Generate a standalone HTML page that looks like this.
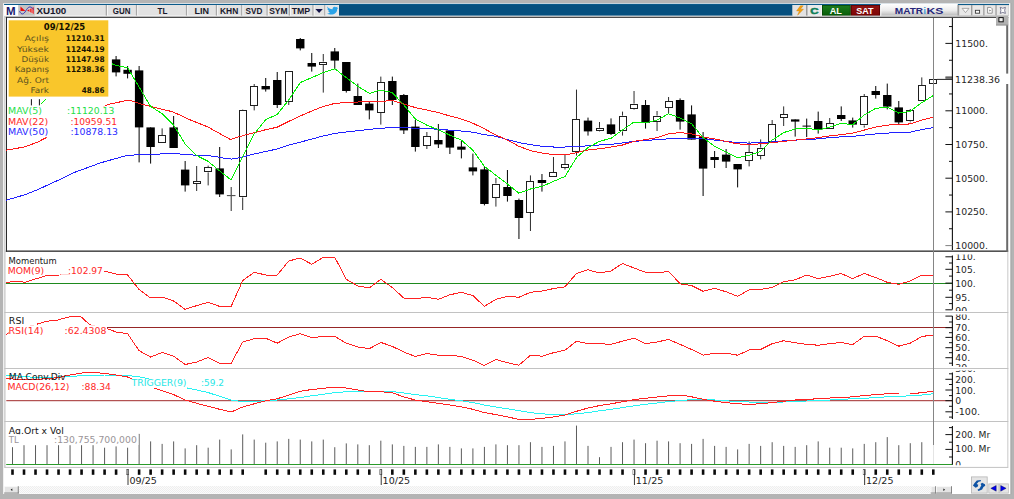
<!DOCTYPE html><html><head><meta charset="utf-8"><title>XU100</title><style>html,body{margin:0;padding:0;background:#b4b4b4;overflow:hidden}svg{display:block}</style></head><body>
<svg width="1014" height="499" viewBox="0 0 1014 499">
<defs>
<linearGradient id="gm" x1="0" y1="0" x2="0" y2="1"><stop offset="0" stop-color="#ffffff"/><stop offset="0.55" stop-color="#ececec"/><stop offset="1" stop-color="#bcbcbc"/></linearGradient>
<linearGradient id="gg" x1="0" y1="0" x2="0" y2="1"><stop offset="0" stop-color="#1c7a1c"/><stop offset="1" stop-color="#0a600a"/></linearGradient>
<linearGradient id="gr" x1="0" y1="0" x2="0" y2="1"><stop offset="0" stop-color="#8e1212"/><stop offset="1" stop-color="#800606"/></linearGradient>
<pattern id="dots" width="2" height="2" patternUnits="userSpaceOnUse"><rect width="2" height="2" fill="#fbfbfb"/><rect width="1" height="1" fill="#eeeeee"/><rect x="1" y="1" width="1" height="1" fill="#eeeeee"/></pattern>
<clipPath id="cmom"><rect x="0" y="254.5" width="1014" height="56.5"/></clipPath>
<clipPath id="crsi"><rect x="0" y="314.5" width="1014" height="52.5"/></clipPath>
<clipPath id="cmacd"><rect x="0" y="370.5" width="1014" height="49.5"/></clipPath>
<clipPath id="cvol"><rect x="0" y="424" width="1014" height="41.2"/></clipPath>
</defs>
<rect x="0.00" y="0.00" width="1014.00" height="499.00" fill="#b4b4b4" />
<rect x="1010.30" y="3.20" width="1.20" height="491.00" fill="#a6a6a6" />
<rect x="3.20" y="3.20" width="1007.10" height="490.80" fill="#ffffff" />
<rect x="4.10" y="3.90" width="1005.00" height="1.10" fill="#0a5a8a" />
<rect x="4.10" y="5.00" width="1005.00" height="10.60" fill="#e2e2e2" />
<rect x="339.00" y="5.00" width="453.70" height="10.60" fill="#06507f" />
<rect x="339.00" y="3.90" width="453.70" height="1.10" fill="#0a5a8a" />
<rect x="4.10" y="5.00" width="14.00" height="10.60" fill="#ffffff" />
<text x="6.1" y="15.0" font-family="'Liberation Sans','DejaVu Sans',sans-serif" font-size="11.20" fill="#1b1b70" font-weight="bold" text-anchor="start" textLength="9.6" lengthAdjust="spacingAndGlyphs" >M</text>
<rect x="18.30" y="5.00" width="16.40" height="10.60" fill="#c4c4c4" />
<path d="M20.5 6.5 L20.5 11 L25.5 11 Z" fill="#e81010"/>
<path d="M27 10.5 L33.8 7 L33.8 14 Z" fill="#e81010"/>
<path d="M29.6 8 L29.6 13 M31.2 7.4 L31.2 13.6 M32.8 7 L32.8 14" stroke="#f4dcdc" stroke-width="0.6" fill="none"/>
<path d="M19.6 11.2 C21.4 15.2 23.6 14.6 25.8 10.8 S30 5.2 33.8 9.4" fill="none" stroke="#2a2ab8" stroke-width="0.9"/>
<text x="36.4" y="13.9" font-family="'Liberation Sans','DejaVu Sans',sans-serif" font-size="9.20" fill="#18182c" font-weight="bold" text-anchor="start" textLength="29.9" lengthAdjust="spacingAndGlyphs" >XU100</text>
<rect x="105.70" y="5.00" width="1.30" height="10.60" fill="#a8a8a8" />
<rect x="107.00" y="5.00" width="1.00" height="10.60" fill="#f6f6f6" />
<rect x="135.90" y="5.00" width="1.30" height="10.60" fill="#a8a8a8" />
<rect x="137.20" y="5.00" width="1.00" height="10.60" fill="#f6f6f6" />
<rect x="185.90" y="5.00" width="1.30" height="10.60" fill="#a8a8a8" />
<rect x="187.20" y="5.00" width="1.00" height="10.60" fill="#f6f6f6" />
<rect x="215.80" y="5.00" width="1.30" height="10.60" fill="#a8a8a8" />
<rect x="217.10" y="5.00" width="1.00" height="10.60" fill="#f6f6f6" />
<rect x="241.10" y="5.00" width="1.30" height="10.60" fill="#a8a8a8" />
<rect x="242.40" y="5.00" width="1.00" height="10.60" fill="#f6f6f6" />
<rect x="266.50" y="5.00" width="1.30" height="10.60" fill="#a8a8a8" />
<rect x="267.80" y="5.00" width="1.00" height="10.60" fill="#f6f6f6" />
<rect x="288.70" y="5.00" width="1.30" height="10.60" fill="#a8a8a8" />
<rect x="290.00" y="5.00" width="1.00" height="10.60" fill="#f6f6f6" />
<rect x="312.40" y="5.00" width="1.30" height="10.60" fill="#a8a8a8" />
<rect x="313.70" y="5.00" width="1.00" height="10.60" fill="#f6f6f6" />
<rect x="324.20" y="5.00" width="1.30" height="10.60" fill="#a8a8a8" />
<rect x="325.50" y="5.00" width="1.00" height="10.60" fill="#f6f6f6" />
<text x="112.8" y="13.7" font-family="'Liberation Sans','DejaVu Sans',sans-serif" font-size="9.00" fill="#18182c" font-weight="bold" text-anchor="start" textLength="17.7" lengthAdjust="spacingAndGlyphs" >GUN</text>
<text x="157.6" y="13.7" font-family="'Liberation Sans','DejaVu Sans',sans-serif" font-size="9.00" fill="#18182c" font-weight="bold" text-anchor="start" textLength="9.9" lengthAdjust="spacingAndGlyphs" >TL</text>
<text x="194.4" y="13.7" font-family="'Liberation Sans','DejaVu Sans',sans-serif" font-size="9.00" fill="#18182c" font-weight="bold" text-anchor="start" textLength="14.5" lengthAdjust="spacingAndGlyphs" >LIN</text>
<text x="220.0" y="13.7" font-family="'Liberation Sans','DejaVu Sans',sans-serif" font-size="9.00" fill="#18182c" font-weight="bold" text-anchor="start" textLength="18.2" lengthAdjust="spacingAndGlyphs" >KHN</text>
<text x="245.6" y="13.7" font-family="'Liberation Sans','DejaVu Sans',sans-serif" font-size="9.00" fill="#18182c" font-weight="bold" text-anchor="start" textLength="16.8" lengthAdjust="spacingAndGlyphs" >SVD</text>
<text x="269.2" y="13.7" font-family="'Liberation Sans','DejaVu Sans',sans-serif" font-size="9.00" fill="#18182c" font-weight="bold" text-anchor="start" textLength="18.4" lengthAdjust="spacingAndGlyphs" >SYM</text>
<text x="291.7" y="13.7" font-family="'Liberation Sans','DejaVu Sans',sans-serif" font-size="9.00" fill="#18182c" font-weight="bold" text-anchor="start" textLength="18.5" lengthAdjust="spacingAndGlyphs" >TMP</text>
<path d="M315.4 8.9 L322.8 8.9 L319.1 13 Z" fill="#14144a"/>
<rect x="326.00" y="5.00" width="13.00" height="10.60" fill="#e8e8e8" />
<path d="M327.2 6.6 C328.6 8.4 330.6 9.3 332.6 9.2 C332.3 7.4 334.2 6 335.9 7.3 L337.9 6.7 L337 8 L338.3 7.9 L337.2 9 C337.4 12.3 334.3 14.9 330.4 14.6 C329.2 14.5 328 14.1 327 13.4 C328.2 13.5 329.3 13.2 330.2 12.5 C329.2 12.4 328.5 11.8 328.2 10.9 L329.2 10.9 C328.1 10.5 327.4 9.6 327.4 8.5 L328.3 8.8 C327.3 8 327 7.2 327.2 6.6 Z" fill="#2aa3e8"/>
<rect x="792.40" y="5.00" width="13.60" height="10.60" fill="#e2e2e2" />
<rect x="806.00" y="5.00" width="1.70" height="10.60" fill="#9a9a9a" />
<path d="M800.4 5.8 L796.6 10.9 L799.4 10.9 L797.6 15.2 L803.4 9.2 L800.4 9.2 L803.2 5.8 Z" fill="#f6a00c" stroke="#c87800" stroke-width="0.4"/>
<rect x="807.70" y="5.00" width="13.60" height="10.60" fill="#e9e9e9" />
<text x="810.2" y="13.8" font-family="'Liberation Sans','DejaVu Sans',sans-serif" font-size="9.40" fill="#0e7e58" font-weight="bold" text-anchor="start" textLength="8.4" lengthAdjust="spacingAndGlyphs" stroke="#0e7e58" stroke-width="0.5">C</text>
<rect x="821.20" y="5.00" width="0.90" height="10.60" fill="#f8f8f8" />
<rect x="822.00" y="5.00" width="28.80" height="10.60" fill="#064a06" />
<rect x="823.00" y="5.80" width="26.80" height="9.00" fill="url(#gg)" />
<text x="829.7" y="13.7" font-family="'Liberation Sans','DejaVu Sans',sans-serif" font-size="9.00" fill="#ffffff" font-weight="bold" text-anchor="start" textLength="12.2" lengthAdjust="spacingAndGlyphs" >AL</text>
<rect x="850.80" y="5.00" width="29.20" height="10.60" fill="#5e0202" />
<rect x="851.80" y="5.80" width="27.20" height="9.00" fill="url(#gr)" />
<text x="856.2" y="13.7" font-family="'Liberation Sans','DejaVu Sans',sans-serif" font-size="9.00" fill="#ffffff" font-weight="bold" text-anchor="start" textLength="17.3" lengthAdjust="spacingAndGlyphs" >SAT</text>
<rect x="880.50" y="3.90" width="77.30" height="11.70" fill="url(#gm)" />
<rect x="880.50" y="5.00" width="0.80" height="10.60" fill="#fafafa" />
<text x="894.8" y="13.9" font-family="'Liberation Sans','DejaVu Sans',sans-serif" font-size="9.40" fill="#26267a" font-weight="bold" text-anchor="start" textLength="28.3" lengthAdjust="spacingAndGlyphs" >MATR</text>
<text x="923.6" y="13.9" font-family="'Liberation Sans','DejaVu Sans',sans-serif" font-size="9.40" fill="#3a9ad8" font-weight="bold" text-anchor="start" textLength="2.4" lengthAdjust="spacingAndGlyphs" >i</text>
<text x="926.6" y="13.9" font-family="'Liberation Sans','DejaVu Sans',sans-serif" font-size="9.40" fill="#26267a" font-weight="bold" text-anchor="start" textLength="16.9" lengthAdjust="spacingAndGlyphs" >KS</text>
<rect x="957.50" y="5.00" width="1.00" height="10.60" fill="#a0a0a0" />
<rect x="957.80" y="5.00" width="51.00" height="10.60" fill="#9c9c9c" />
<rect x="959.20" y="5.20" width="11.80" height="10.20" fill="#e8e8e8" />
<rect x="972.40" y="5.20" width="10.80" height="10.20" fill="#e8e8e8" />
<rect x="984.50" y="5.20" width="10.90" height="10.20" fill="#e8e8e8" />
<rect x="996.70" y="5.20" width="12.00" height="10.20" fill="#e8e8e8" />
<path d="M962.1 8.4 L969 8.4 L965.5 12.6 Z" fill="#fafafa" stroke="#8c8c8c" stroke-width="0.7"/>
<rect x="975.4" y="10.3" width="4.2" height="2.9" fill="#fff" stroke="#3a3a3a" stroke-width="0.9"/>
<path d="M987.6 7.4 L990.8 7.4 L992.2 8.8 L992.2 13.2 L987.6 13.2 Z" fill="#fff" stroke="#6e6e6e" stroke-width="0.7"/><path d="M989.4 9.5 L991 10.5 L989.4 11.5 Z" fill="#666"/>
<path d="M1000.2 7.3 Q1002.8 9.3 1005.4 7.3 Q1003.9 10.3 1005.4 13.4 Q1002.8 11.4 1000.2 13.4 Q1001.7 10.3 1000.2 7.3 Z" fill="#fff" stroke="#5a5a78" stroke-width="0.75" stroke-linejoin="round"/>
<rect x="5.70" y="16.70" width="1002.50" height="1.10" fill="#1e1e1e" />
<rect x="6.00" y="17.00" width="1.00" height="234.60" fill="#2a2a2a" />
<rect x="5.70" y="250.50" width="1002.50" height="1.30" fill="#2a2a2a" />
<rect x="1006.20" y="17.00" width="2.00" height="234.80" fill="#6a6a6a" />
<rect x="996.00" y="15.80" width="12.20" height="9.40" fill="#b2b2b2" />
<rect x="996.00" y="24.60" width="12.20" height="0.90" fill="#8a8a8a" />
<rect x="998.9" y="17.6" width="4.3" height="4.2" fill="#f2f2f2" stroke="#111" stroke-width="1"/>
<rect x="4.40" y="16.00" width="1.00" height="451.40" fill="#b6b6b6" />
<rect x="1007.40" y="251.80" width="0.90" height="215.60" fill="#c2c2c2" />
<rect x="4.30" y="312.00" width="1004.00" height="1.00" fill="#c2c2c2" />
<rect x="4.30" y="368.00" width="1004.00" height="1.00" fill="#c2c2c2" />
<rect x="4.30" y="421.00" width="1004.00" height="1.00" fill="#c2c2c2" />
<rect x="4.30" y="466.90" width="1004.00" height="1.00" fill="#c2c2c2" />
<polyline points="6.3,200.2 25.0,194.7 37.6,189.7 50.0,184.0 62.6,178.2 75.0,172.2 87.7,167.6 100.0,163.0 112.7,159.4 125.3,155.9 137.8,154.6 150.3,154.4 162.8,153.9 175.4,153.6 187.9,154.6 200.4,155.6 213.0,156.1 225.5,158.4 231.7,159.1 240.5,157.6 254.2,154.0 265.7,151.5 277.2,149.0 288.7,145.2 300.2,142.2 311.8,139.0 323.3,136.0 334.8,133.4 346.3,132.0 357.8,130.7 369.3,129.4 380.8,128.2 392.3,127.7 403.8,127.7 415.3,128.2 426.9,128.7 438.4,129.2 449.9,130.2 461.4,131.0 472.9,132.2 484.4,134.7 495.9,136.3 507.4,139.6 518.9,142.6 530.5,144.6 542.0,146.3 553.5,147.0 565.0,147.0 576.5,146.6 588.0,145.8 599.5,145.0 611.0,144.3 622.5,143.0 634.0,141.3 645.5,140.6 657.1,139.6 668.6,138.8 680.1,138.3 691.6,138.3 703.1,138.8 714.6,140.1 726.1,141.4 737.6,142.6 749.1,143.1 760.6,142.6 772.2,141.9 783.7,140.9 795.2,140.1 806.7,139.4 818.2,138.9 829.7,137.6 841.2,136.9 852.7,136.4 864.2,135.1 875.8,133.9 887.3,133.1 898.8,132.6 910.3,132.1 921.8,129.6 933.3,127.6" fill="none" stroke="#2020ff" stroke-width="1" shape-rendering="crispEdges"/>
<polyline points="6.3,150.1 25.0,146.9 37.6,142.1 46.3,137.6 107.7,104.5 129.0,100.0 142.8,104.5 172.8,111.8 190.4,120.0 208.0,127.0 218.0,132.6 230.5,139.6 240.5,136.3 254.2,132.7 265.7,129.7 277.2,127.2 288.7,121.4 300.2,116.0 311.8,111.0 323.3,106.4 334.8,103.4 346.3,102.6 357.8,102.0 369.3,101.9 380.8,101.4 392.3,100.6 403.8,103.9 415.3,107.6 426.9,110.0 438.4,112.6 449.9,116.0 461.4,119.0 472.9,123.2 484.4,128.8 495.9,135.0 507.4,140.0 518.9,146.3 530.5,150.6 542.0,153.0 553.5,154.6 565.0,155.0 576.5,152.6 588.0,150.0 599.5,148.8 611.0,147.0 622.5,145.0 634.0,141.3 645.5,139.6 657.1,137.6 668.6,133.8 680.1,132.6 691.6,133.8 703.1,137.0 714.6,138.9 726.1,141.4 737.6,143.9 749.1,144.4 760.6,143.9 772.2,142.6 783.7,141.4 795.2,140.1 806.7,138.9 818.2,137.6 829.7,135.9 841.2,134.6 852.7,133.1 864.2,130.1 875.8,127.1 887.3,125.1 898.8,124.6 910.3,123.9 921.8,120.1 933.3,117.1" fill="none" stroke="#ff1818" stroke-width="1" shape-rendering="crispEdges"/>
<polyline points="111.5,63.6 116.1,65.5 127.6,67.6 139.1,87.0 150.6,106.5 162.1,113.5 173.6,125.0 185.2,144.0 196.7,155.5 208.2,161.4 219.7,171.0 231.2,180.0 242.7,156.5 254.2,134.0 265.7,119.7 277.2,114.4 288.7,100.0 300.2,82.6 311.8,77.6 323.3,72.6 334.8,68.8 346.3,77.6 357.8,86.3 369.3,93.4 380.8,90.0 392.3,92.6 403.8,105.0 415.3,119.0 426.9,125.2 438.4,129.7 449.9,135.2 461.4,140.2 472.9,150.2 484.4,166.4 495.9,175.2 507.4,184.0 518.9,193.2 530.5,189.0 542.0,186.4 553.5,181.4 565.0,176.4 576.5,157.6 588.0,147.6 599.5,141.3 611.0,138.3 622.5,130.0 634.0,122.0 645.5,123.0 657.1,120.0 668.6,113.8 680.1,118.0 691.6,123.8 703.1,137.6 714.6,146.4 726.1,152.2 737.6,157.7 749.1,155.2 760.6,151.4 772.2,140.1 783.7,132.6 795.2,128.9 806.7,128.1 818.2,130.1 829.7,127.1 841.2,123.4 852.7,124.6 864.2,115.1 875.8,108.3 887.3,107.1 898.8,113.1 910.3,111.3 921.8,102.6 933.3,95.6" fill="none" stroke="#00ee00" stroke-width="1" shape-rendering="crispEdges"/>
<polyline points="41.3,104.0 46.0,99.0" fill="none" stroke="#00ee00" stroke-width="1" shape-rendering="crispEdges"/>
<line x1="31.40" y1="99.20" x2="31.40" y2="105.40" stroke="#111" stroke-width="1.00" />
<line x1="39.40" y1="99.20" x2="39.40" y2="105.40" stroke="#111" stroke-width="1.00" />
<line x1="116.09" y1="56.00" x2="116.09" y2="76.40" stroke="#000" stroke-width="1.00" />
<rect x="111.89" y="59.40" width="8.40" height="13.00" fill="#000" />
<line x1="127.60" y1="66.00" x2="127.60" y2="78.40" stroke="#000" stroke-width="1.00" />
<rect x="123.40" y="69.80" width="8.40" height="4.00" fill="#000" />
<line x1="139.11" y1="66.00" x2="139.11" y2="162.40" stroke="#000" stroke-width="1.00" />
<rect x="134.91" y="70.40" width="8.40" height="57.00" fill="#000" />
<line x1="150.62" y1="127.40" x2="150.62" y2="163.60" stroke="#000" stroke-width="1.00" />
<rect x="146.42" y="127.40" width="8.40" height="19.60" fill="#000" />
<line x1="162.13" y1="128.40" x2="162.13" y2="135.00" stroke="#2c2c2c" stroke-width="1.00" />
<line x1="162.13" y1="143.40" x2="162.13" y2="143.40" stroke="#2c2c2c" stroke-width="1.00" />
<rect x="158.00" y="135.00" width="8.00" height="8.00" fill="#1e1e1e" />
<rect x="159.00" y="136.00" width="6.00" height="6.00" fill="#fff" />
<line x1="173.64" y1="116.00" x2="173.64" y2="148.00" stroke="#000" stroke-width="1.00" />
<rect x="169.44" y="127.40" width="8.40" height="20.60" fill="#000" />
<line x1="185.15" y1="161.00" x2="185.15" y2="191.60" stroke="#000" stroke-width="1.00" />
<rect x="180.95" y="169.60" width="8.40" height="15.80" fill="#000" />
<line x1="196.66" y1="166.00" x2="196.66" y2="181.00" stroke="#2c2c2c" stroke-width="1.00" />
<line x1="196.66" y1="183.60" x2="196.66" y2="191.00" stroke="#2c2c2c" stroke-width="1.00" />
<rect x="193.00" y="181.00" width="8.00" height="3.00" fill="#1e1e1e" />
<rect x="194.00" y="182.00" width="6.00" height="1.00" fill="#fff" />
<line x1="208.17" y1="165.60" x2="208.17" y2="167.00" stroke="#2c2c2c" stroke-width="1.00" />
<line x1="208.17" y1="172.40" x2="208.17" y2="185.40" stroke="#2c2c2c" stroke-width="1.00" />
<rect x="204.00" y="167.00" width="8.00" height="5.00" fill="#1e1e1e" />
<rect x="205.00" y="168.00" width="6.00" height="3.00" fill="#fff" />
<line x1="219.68" y1="147.00" x2="219.68" y2="197.00" stroke="#000" stroke-width="1.00" />
<rect x="215.48" y="168.40" width="8.40" height="26.00" fill="#000" />
<line x1="231.19" y1="187.00" x2="231.19" y2="195.20" stroke="#2c2c2c" stroke-width="1.00" />
<line x1="231.19" y1="196.00" x2="231.19" y2="211.00" stroke="#2c2c2c" stroke-width="1.00" />
<rect x="226.89" y="195.20" width="8.60" height="0.90" fill="#2c2c2c" />
<line x1="242.70" y1="109.60" x2="242.70" y2="110.40" stroke="#2c2c2c" stroke-width="1.00" />
<line x1="242.70" y1="197.40" x2="242.70" y2="210.00" stroke="#2c2c2c" stroke-width="1.00" />
<rect x="239.00" y="110.00" width="8.00" height="87.00" fill="#1e1e1e" />
<rect x="240.00" y="111.00" width="6.00" height="85.00" fill="#fff" />
<line x1="254.21" y1="84.00" x2="254.21" y2="86.00" stroke="#2c2c2c" stroke-width="1.00" />
<line x1="254.21" y1="106.00" x2="254.21" y2="110.40" stroke="#2c2c2c" stroke-width="1.00" />
<rect x="250.00" y="86.00" width="8.00" height="20.00" fill="#1e1e1e" />
<rect x="251.00" y="87.00" width="6.00" height="18.00" fill="#fff" />
<line x1="265.72" y1="78.00" x2="265.72" y2="91.60" stroke="#000" stroke-width="1.00" />
<rect x="261.52" y="86.00" width="8.40" height="3.40" fill="#000" />
<line x1="277.23" y1="72.00" x2="277.23" y2="108.00" stroke="#000" stroke-width="1.00" />
<rect x="273.03" y="80.00" width="8.40" height="25.00" fill="#000" />
<line x1="288.74" y1="71.20" x2="288.74" y2="71.20" stroke="#2c2c2c" stroke-width="1.00" />
<line x1="288.74" y1="101.60" x2="288.74" y2="105.00" stroke="#2c2c2c" stroke-width="1.00" />
<rect x="285.00" y="71.00" width="8.00" height="31.00" fill="#1e1e1e" />
<rect x="286.00" y="72.00" width="6.00" height="29.00" fill="#fff" />
<line x1="300.25" y1="38.00" x2="300.25" y2="50.40" stroke="#000" stroke-width="1.00" />
<rect x="296.05" y="39.00" width="8.40" height="9.40" fill="#000" />
<line x1="311.76" y1="53.00" x2="311.76" y2="71.60" stroke="#000" stroke-width="1.00" />
<rect x="307.56" y="63.00" width="8.40" height="3.60" fill="#000" />
<line x1="323.27" y1="54.00" x2="323.27" y2="61.60" stroke="#2c2c2c" stroke-width="1.00" />
<line x1="323.27" y1="64.40" x2="323.27" y2="92.60" stroke="#2c2c2c" stroke-width="1.00" />
<rect x="319.00" y="62.00" width="8.00" height="3.00" fill="#1e1e1e" />
<rect x="320.00" y="63.00" width="6.00" height="1.00" fill="#fff" />
<line x1="334.78" y1="48.00" x2="334.78" y2="69.40" stroke="#000" stroke-width="1.00" />
<rect x="330.58" y="51.40" width="8.40" height="9.20" fill="#000" />
<line x1="346.29" y1="62.00" x2="346.29" y2="92.60" stroke="#000" stroke-width="1.00" />
<rect x="342.09" y="62.00" width="8.40" height="29.00" fill="#000" />
<line x1="357.80" y1="83.60" x2="357.80" y2="105.00" stroke="#000" stroke-width="1.00" />
<rect x="353.60" y="96.00" width="8.40" height="9.00" fill="#000" />
<line x1="369.31" y1="102.00" x2="369.31" y2="119.40" stroke="#000" stroke-width="1.00" />
<rect x="365.11" y="103.60" width="8.40" height="6.80" fill="#000" />
<line x1="380.82" y1="76.60" x2="380.82" y2="82.00" stroke="#2c2c2c" stroke-width="1.00" />
<line x1="380.82" y1="113.00" x2="380.82" y2="124.60" stroke="#2c2c2c" stroke-width="1.00" />
<rect x="377.00" y="82.00" width="8.00" height="31.00" fill="#1e1e1e" />
<rect x="378.00" y="83.00" width="6.00" height="29.00" fill="#fff" />
<line x1="392.33" y1="76.60" x2="392.33" y2="105.00" stroke="#000" stroke-width="1.00" />
<rect x="388.13" y="81.00" width="8.40" height="19.00" fill="#000" />
<line x1="403.84" y1="94.00" x2="403.84" y2="134.00" stroke="#000" stroke-width="1.00" />
<rect x="399.64" y="95.00" width="8.40" height="35.40" fill="#000" />
<line x1="415.35" y1="120.00" x2="415.35" y2="151.60" stroke="#000" stroke-width="1.00" />
<rect x="411.15" y="126.60" width="8.40" height="20.40" fill="#000" />
<line x1="426.86" y1="132.00" x2="426.86" y2="136.40" stroke="#2c2c2c" stroke-width="1.00" />
<line x1="426.86" y1="146.00" x2="426.86" y2="149.00" stroke="#2c2c2c" stroke-width="1.00" />
<rect x="423.00" y="136.00" width="8.00" height="10.00" fill="#1e1e1e" />
<rect x="424.00" y="137.00" width="6.00" height="8.00" fill="#fff" />
<line x1="438.37" y1="124.00" x2="438.37" y2="148.00" stroke="#000" stroke-width="1.00" />
<rect x="434.17" y="140.00" width="8.40" height="4.40" fill="#000" />
<line x1="449.88" y1="130.40" x2="449.88" y2="154.00" stroke="#000" stroke-width="1.00" />
<rect x="445.68" y="130.40" width="8.40" height="17.20" fill="#000" />
<line x1="461.39" y1="141.00" x2="461.39" y2="158.40" stroke="#000" stroke-width="1.00" />
<rect x="457.19" y="146.60" width="8.40" height="3.10" fill="#000" />
<line x1="472.90" y1="153.60" x2="472.90" y2="175.40" stroke="#000" stroke-width="1.00" />
<rect x="468.70" y="167.40" width="8.40" height="4.00" fill="#000" />
<line x1="484.41" y1="166.00" x2="484.41" y2="205.40" stroke="#000" stroke-width="1.00" />
<rect x="480.21" y="169.40" width="8.40" height="34.60" fill="#000" />
<line x1="495.92" y1="178.00" x2="495.92" y2="183.60" stroke="#2c2c2c" stroke-width="1.00" />
<line x1="495.92" y1="197.60" x2="495.92" y2="206.60" stroke="#2c2c2c" stroke-width="1.00" />
<rect x="492.00" y="184.00" width="8.00" height="14.00" fill="#1e1e1e" />
<rect x="493.00" y="185.00" width="6.00" height="12.00" fill="#fff" />
<line x1="507.43" y1="170.00" x2="507.43" y2="201.60" stroke="#000" stroke-width="1.00" />
<rect x="503.23" y="187.00" width="8.40" height="9.00" fill="#000" />
<line x1="518.94" y1="198.60" x2="518.94" y2="239.00" stroke="#000" stroke-width="1.00" />
<rect x="514.74" y="200.00" width="8.40" height="18.00" fill="#000" />
<line x1="530.45" y1="175.40" x2="530.45" y2="181.00" stroke="#2c2c2c" stroke-width="1.00" />
<line x1="530.45" y1="212.60" x2="530.45" y2="231.00" stroke="#2c2c2c" stroke-width="1.00" />
<rect x="526.00" y="181.00" width="8.00" height="32.00" fill="#1e1e1e" />
<rect x="527.00" y="182.00" width="6.00" height="30.00" fill="#fff" />
<line x1="541.96" y1="174.00" x2="541.96" y2="191.60" stroke="#000" stroke-width="1.00" />
<rect x="537.76" y="180.00" width="8.40" height="3.00" fill="#000" />
<line x1="553.47" y1="157.00" x2="553.47" y2="172.40" stroke="#2c2c2c" stroke-width="1.00" />
<line x1="553.47" y1="177.40" x2="553.47" y2="177.40" stroke="#2c2c2c" stroke-width="1.00" />
<rect x="549.00" y="172.00" width="8.00" height="5.00" fill="#1e1e1e" />
<rect x="550.00" y="173.00" width="6.00" height="3.00" fill="#fff" />
<line x1="564.98" y1="155.00" x2="564.98" y2="164.40" stroke="#2c2c2c" stroke-width="1.00" />
<line x1="564.98" y1="167.60" x2="564.98" y2="169.60" stroke="#2c2c2c" stroke-width="1.00" />
<rect x="561.00" y="164.00" width="8.00" height="4.00" fill="#1e1e1e" />
<rect x="562.00" y="165.00" width="6.00" height="2.00" fill="#fff" />
<line x1="576.49" y1="89.60" x2="576.49" y2="119.00" stroke="#2c2c2c" stroke-width="1.00" />
<line x1="576.49" y1="152.00" x2="576.49" y2="155.60" stroke="#2c2c2c" stroke-width="1.00" />
<rect x="572.00" y="119.00" width="8.00" height="33.00" fill="#1e1e1e" />
<rect x="573.00" y="120.00" width="6.00" height="31.00" fill="#fff" />
<line x1="588.00" y1="117.60" x2="588.00" y2="135.60" stroke="#000" stroke-width="1.00" />
<rect x="583.80" y="120.60" width="8.40" height="10.80" fill="#000" />
<line x1="599.51" y1="122.00" x2="599.51" y2="127.80" stroke="#2c2c2c" stroke-width="1.00" />
<line x1="599.51" y1="130.80" x2="599.51" y2="131.40" stroke="#2c2c2c" stroke-width="1.00" />
<rect x="596.00" y="128.00" width="8.00" height="3.00" fill="#1e1e1e" />
<rect x="597.00" y="129.00" width="6.00" height="1.00" fill="#fff" />
<line x1="611.02" y1="118.40" x2="611.02" y2="135.00" stroke="#000" stroke-width="1.00" />
<rect x="606.82" y="124.40" width="8.40" height="9.60" fill="#000" />
<line x1="622.53" y1="111.60" x2="622.53" y2="115.60" stroke="#2c2c2c" stroke-width="1.00" />
<line x1="622.53" y1="131.40" x2="622.53" y2="135.60" stroke="#2c2c2c" stroke-width="1.00" />
<rect x="619.00" y="116.00" width="8.00" height="15.00" fill="#1e1e1e" />
<rect x="620.00" y="117.00" width="6.00" height="13.00" fill="#fff" />
<line x1="634.04" y1="91.00" x2="634.04" y2="103.60" stroke="#2c2c2c" stroke-width="1.00" />
<line x1="634.04" y1="108.60" x2="634.04" y2="109.60" stroke="#2c2c2c" stroke-width="1.00" />
<rect x="630.00" y="104.00" width="8.00" height="5.00" fill="#1e1e1e" />
<rect x="631.00" y="105.00" width="6.00" height="3.00" fill="#fff" />
<line x1="645.55" y1="100.00" x2="645.55" y2="128.60" stroke="#000" stroke-width="1.00" />
<rect x="641.35" y="105.00" width="8.40" height="18.00" fill="#000" />
<line x1="657.06" y1="111.00" x2="657.06" y2="115.60" stroke="#2c2c2c" stroke-width="1.00" />
<line x1="657.06" y1="121.60" x2="657.06" y2="131.00" stroke="#2c2c2c" stroke-width="1.00" />
<rect x="653.00" y="116.00" width="8.00" height="6.00" fill="#1e1e1e" />
<rect x="654.00" y="117.00" width="6.00" height="4.00" fill="#fff" />
<line x1="668.57" y1="97.00" x2="668.57" y2="101.40" stroke="#2c2c2c" stroke-width="1.00" />
<line x1="668.57" y1="107.60" x2="668.57" y2="113.00" stroke="#2c2c2c" stroke-width="1.00" />
<rect x="665.00" y="101.00" width="8.00" height="7.00" fill="#1e1e1e" />
<rect x="666.00" y="102.00" width="6.00" height="5.00" fill="#fff" />
<line x1="680.08" y1="98.40" x2="680.08" y2="129.60" stroke="#000" stroke-width="1.00" />
<rect x="675.88" y="100.00" width="8.40" height="21.60" fill="#000" />
<line x1="691.59" y1="105.40" x2="691.59" y2="139.60" stroke="#000" stroke-width="1.00" />
<rect x="687.39" y="114.40" width="8.40" height="25.20" fill="#000" />
<line x1="703.10" y1="132.00" x2="703.10" y2="196.00" stroke="#000" stroke-width="1.00" />
<rect x="698.90" y="137.00" width="8.40" height="31.60" fill="#000" />
<line x1="714.61" y1="151.00" x2="714.61" y2="168.00" stroke="#000" stroke-width="1.00" />
<rect x="710.41" y="157.00" width="8.40" height="3.00" fill="#000" />
<line x1="726.12" y1="149.00" x2="726.12" y2="168.00" stroke="#000" stroke-width="1.00" />
<rect x="721.92" y="154.60" width="8.40" height="7.00" fill="#000" />
<line x1="737.63" y1="164.00" x2="737.63" y2="187.40" stroke="#000" stroke-width="1.00" />
<rect x="733.43" y="164.00" width="8.40" height="5.40" fill="#000" />
<line x1="749.14" y1="141.40" x2="749.14" y2="152.40" stroke="#2c2c2c" stroke-width="1.00" />
<line x1="749.14" y1="161.00" x2="749.14" y2="166.40" stroke="#2c2c2c" stroke-width="1.00" />
<rect x="745.00" y="152.00" width="8.00" height="9.00" fill="#1e1e1e" />
<rect x="746.00" y="153.00" width="6.00" height="7.00" fill="#fff" />
<line x1="760.65" y1="139.40" x2="760.65" y2="147.60" stroke="#2c2c2c" stroke-width="1.00" />
<line x1="760.65" y1="155.60" x2="760.65" y2="159.40" stroke="#2c2c2c" stroke-width="1.00" />
<rect x="757.00" y="148.00" width="8.00" height="8.00" fill="#1e1e1e" />
<rect x="758.00" y="149.00" width="6.00" height="6.00" fill="#fff" />
<line x1="772.16" y1="120.00" x2="772.16" y2="124.00" stroke="#2c2c2c" stroke-width="1.00" />
<line x1="772.16" y1="142.00" x2="772.16" y2="142.00" stroke="#2c2c2c" stroke-width="1.00" />
<rect x="768.00" y="124.00" width="8.00" height="18.00" fill="#1e1e1e" />
<rect x="769.00" y="125.00" width="6.00" height="16.00" fill="#fff" />
<line x1="783.67" y1="106.40" x2="783.67" y2="114.00" stroke="#2c2c2c" stroke-width="1.00" />
<line x1="783.67" y1="117.80" x2="783.67" y2="126.00" stroke="#2c2c2c" stroke-width="1.00" />
<rect x="780.00" y="114.00" width="8.00" height="4.00" fill="#1e1e1e" />
<rect x="781.00" y="115.00" width="6.00" height="2.00" fill="#fff" />
<line x1="795.18" y1="119.40" x2="795.18" y2="136.60" stroke="#000" stroke-width="1.00" />
<rect x="790.98" y="119.40" width="8.40" height="2.20" fill="#000" />
<line x1="806.69" y1="118.60" x2="806.69" y2="137.00" stroke="#000" stroke-width="1.00" />
<rect x="802.49" y="125.60" width="8.40" height="1.00" fill="#000" />
<line x1="818.20" y1="111.60" x2="818.20" y2="133.60" stroke="#000" stroke-width="1.00" />
<rect x="814.00" y="121.00" width="8.40" height="9.00" fill="#000" />
<line x1="829.71" y1="118.00" x2="829.71" y2="123.30" stroke="#2c2c2c" stroke-width="1.00" />
<line x1="829.71" y1="128.80" x2="829.71" y2="128.80" stroke="#2c2c2c" stroke-width="1.00" />
<rect x="826.00" y="123.00" width="8.00" height="6.00" fill="#1e1e1e" />
<rect x="827.00" y="124.00" width="6.00" height="4.00" fill="#fff" />
<line x1="841.22" y1="106.40" x2="841.22" y2="121.00" stroke="#000" stroke-width="1.00" />
<rect x="837.02" y="115.00" width="8.40" height="4.00" fill="#000" />
<line x1="852.73" y1="117.60" x2="852.73" y2="127.60" stroke="#000" stroke-width="1.00" />
<rect x="848.53" y="120.40" width="8.40" height="4.20" fill="#000" />
<line x1="864.24" y1="94.00" x2="864.24" y2="96.40" stroke="#2c2c2c" stroke-width="1.00" />
<line x1="864.24" y1="125.40" x2="864.24" y2="127.60" stroke="#2c2c2c" stroke-width="1.00" />
<rect x="860.00" y="96.00" width="8.00" height="29.00" fill="#1e1e1e" />
<rect x="861.00" y="97.00" width="6.00" height="27.00" fill="#fff" />
<line x1="875.75" y1="86.00" x2="875.75" y2="98.60" stroke="#000" stroke-width="1.00" />
<rect x="871.55" y="91.00" width="8.40" height="4.00" fill="#000" />
<line x1="887.26" y1="83.60" x2="887.26" y2="109.40" stroke="#000" stroke-width="1.00" />
<rect x="883.06" y="95.00" width="8.40" height="11.60" fill="#000" />
<line x1="898.77" y1="101.00" x2="898.77" y2="124.60" stroke="#000" stroke-width="1.00" />
<rect x="894.57" y="107.40" width="8.40" height="15.00" fill="#000" />
<line x1="910.28" y1="109.00" x2="910.28" y2="110.00" stroke="#2c2c2c" stroke-width="1.00" />
<line x1="910.28" y1="121.40" x2="910.28" y2="122.40" stroke="#2c2c2c" stroke-width="1.00" />
<rect x="906.00" y="110.00" width="8.00" height="11.00" fill="#1e1e1e" />
<rect x="907.00" y="111.00" width="6.00" height="9.00" fill="#fff" />
<line x1="921.79" y1="77.40" x2="921.79" y2="85.40" stroke="#2c2c2c" stroke-width="1.00" />
<line x1="921.79" y1="100.80" x2="921.79" y2="100.80" stroke="#2c2c2c" stroke-width="1.00" />
<rect x="918.00" y="85.00" width="8.00" height="16.00" fill="#1e1e1e" />
<rect x="919.00" y="86.00" width="6.00" height="14.00" fill="#fff" />
<line x1="933.30" y1="79.20" x2="933.30" y2="79.20" stroke="#2c2c2c" stroke-width="1.00" />
<line x1="933.30" y1="83.60" x2="933.30" y2="83.60" stroke="#2c2c2c" stroke-width="1.00" />
<rect x="929.00" y="79.00" width="8.00" height="5.00" fill="#1e1e1e" />
<rect x="930.00" y="80.00" width="6.00" height="3.00" fill="#fff" />
<polyline points="6.3,200.2 25.0,194.7 37.6,189.7 50.0,184.0 62.6,178.2 75.0,172.2 87.7,167.6 100.0,163.0 112.7,159.4 125.3,155.9 137.8,154.6 150.3,154.4 162.8,153.9 175.4,153.6 187.9,154.6 200.4,155.6 213.0,156.1 225.5,158.4 231.7,159.1 240.5,157.6 254.2,154.0 265.7,151.5 277.2,149.0 288.7,145.2 300.2,142.2 311.8,139.0 323.3,136.0 334.8,133.4 346.3,132.0 357.8,130.7 369.3,129.4 380.8,128.2 392.3,127.7 403.8,127.7 415.3,128.2 426.9,128.7 438.4,129.2 449.9,130.2 461.4,131.0 472.9,132.2 484.4,134.7 495.9,136.3 507.4,139.6 518.9,142.6 530.5,144.6 542.0,146.3 553.5,147.0 565.0,147.0 576.5,146.6 588.0,145.8 599.5,145.0 611.0,144.3 622.5,143.0 634.0,141.3 645.5,140.6 657.1,139.6 668.6,138.8 680.1,138.3 691.6,138.3 703.1,138.8 714.6,140.1 726.1,141.4 737.6,142.6 749.1,143.1 760.6,142.6 772.2,141.9 783.7,140.9 795.2,140.1 806.7,139.4 818.2,138.9 829.7,137.6 841.2,136.9 852.7,136.4 864.2,135.1 875.8,133.9 887.3,133.1 898.8,132.6 910.3,132.1 921.8,129.6 933.3,127.6" fill="none" stroke="#2020ff" stroke-width="1" shape-rendering="crispEdges" opacity="0.9"/>
<polyline points="6.3,150.1 25.0,146.9 37.6,142.1 46.3,137.6 107.7,104.5 129.0,100.0 142.8,104.5 172.8,111.8 190.4,120.0 208.0,127.0 218.0,132.6 230.5,139.6 240.5,136.3 254.2,132.7 265.7,129.7 277.2,127.2 288.7,121.4 300.2,116.0 311.8,111.0 323.3,106.4 334.8,103.4 346.3,102.6 357.8,102.0 369.3,101.9 380.8,101.4 392.3,100.6 403.8,103.9 415.3,107.6 426.9,110.0 438.4,112.6 449.9,116.0 461.4,119.0 472.9,123.2 484.4,128.8 495.9,135.0 507.4,140.0 518.9,146.3 530.5,150.6 542.0,153.0 553.5,154.6 565.0,155.0 576.5,152.6 588.0,150.0 599.5,148.8 611.0,147.0 622.5,145.0 634.0,141.3 645.5,139.6 657.1,137.6 668.6,133.8 680.1,132.6 691.6,133.8 703.1,137.0 714.6,138.9 726.1,141.4 737.6,143.9 749.1,144.4 760.6,143.9 772.2,142.6 783.7,141.4 795.2,140.1 806.7,138.9 818.2,137.6 829.7,135.9 841.2,134.6 852.7,133.1 864.2,130.1 875.8,127.1 887.3,125.1 898.8,124.6 910.3,123.9 921.8,120.1 933.3,117.1" fill="none" stroke="#ff1818" stroke-width="1" shape-rendering="crispEdges" opacity="0.9"/>
<polyline points="111.5,63.6 116.1,65.5 127.6,67.6 139.1,87.0 150.6,106.5 162.1,113.5 173.6,125.0 185.2,144.0 196.7,155.5 208.2,161.4 219.7,171.0 231.2,180.0 242.7,156.5 254.2,134.0 265.7,119.7 277.2,114.4 288.7,100.0 300.2,82.6 311.8,77.6 323.3,72.6 334.8,68.8 346.3,77.6 357.8,86.3 369.3,93.4 380.8,90.0 392.3,92.6 403.8,105.0 415.3,119.0 426.9,125.2 438.4,129.7 449.9,135.2 461.4,140.2 472.9,150.2 484.4,166.4 495.9,175.2 507.4,184.0 518.9,193.2 530.5,189.0 542.0,186.4 553.5,181.4 565.0,176.4 576.5,157.6 588.0,147.6 599.5,141.3 611.0,138.3 622.5,130.0 634.0,122.0 645.5,123.0 657.1,120.0 668.6,113.8 680.1,118.0 691.6,123.8 703.1,137.6 714.6,146.4 726.1,152.2 737.6,157.7 749.1,155.2 760.6,151.4 772.2,140.1 783.7,132.6 795.2,128.9 806.7,128.1 818.2,130.1 829.7,127.1 841.2,123.4 852.7,124.6 864.2,115.1 875.8,108.3 887.3,107.1 898.8,113.1 910.3,111.3 921.8,102.6 933.3,95.6" fill="none" stroke="#00ee00" stroke-width="1" shape-rendering="crispEdges" opacity="0.9"/>
<rect x="7.00" y="106.20" width="112.00" height="31.00" fill="#ffffff" />
<text x="8.0" y="114.3" font-family="'DejaVu Sans','Liberation Sans',sans-serif" font-size="8.20" fill="#1fe04a" font-weight="normal" text-anchor="start" textLength="34.0" lengthAdjust="spacingAndGlyphs" >MAV(5)</text>
<text x="67.0" y="114.3" font-family="'DejaVu Sans','Liberation Sans',sans-serif" font-size="8.20" fill="#1fe04a" font-weight="normal" text-anchor="start" textLength="47.4" lengthAdjust="spacingAndGlyphs" >:11120.13</text>
<text x="8.0" y="124.8" font-family="'DejaVu Sans','Liberation Sans',sans-serif" font-size="8.20" fill="#ff2828" font-weight="normal" text-anchor="start" textLength="40.2" lengthAdjust="spacingAndGlyphs" >MAV(22)</text>
<text x="70.4" y="124.8" font-family="'DejaVu Sans','Liberation Sans',sans-serif" font-size="8.20" fill="#ff2828" font-weight="normal" text-anchor="start" textLength="46.6" lengthAdjust="spacingAndGlyphs" >:10959.51</text>
<text x="8.0" y="135.2" font-family="'DejaVu Sans','Liberation Sans',sans-serif" font-size="8.20" fill="#2a2aff" font-weight="normal" text-anchor="start" textLength="40.2" lengthAdjust="spacingAndGlyphs" >MAV(50)</text>
<text x="70.4" y="135.2" font-family="'DejaVu Sans','Liberation Sans',sans-serif" font-size="8.20" fill="#2a2aff" font-weight="normal" text-anchor="start" textLength="47.6" lengthAdjust="spacingAndGlyphs" >:10878.13</text>
<rect x="8.70" y="20.30" width="99.60" height="76.30" fill="#f9c62b" />
<text x="64.5" y="30.4" font-family="'DejaVu Sans','Liberation Sans',sans-serif" font-size="8.00" fill="#141000" font-weight="bold" text-anchor="middle" textLength="41.5" lengthAdjust="spacingAndGlyphs" >09/12/25</text>
<text x="49.0" y="41.1" font-family="'DejaVu Sans','Liberation Sans',sans-serif" font-size="7.90" fill="#5c5220" font-weight="normal" text-anchor="end" textLength="24.5" lengthAdjust="spacingAndGlyphs" >Açılış</text>
<text x="104.6" y="41.1" font-family="'DejaVu Sans','Liberation Sans',sans-serif" font-size="7.90" fill="#141000" font-weight="bold" text-anchor="end" textLength="38.8" lengthAdjust="spacingAndGlyphs" >11210.31</text>
<text x="49.0" y="51.6" font-family="'DejaVu Sans','Liberation Sans',sans-serif" font-size="7.90" fill="#5c5220" font-weight="normal" text-anchor="end" textLength="32.0" lengthAdjust="spacingAndGlyphs" >Yüksek</text>
<text x="104.6" y="51.6" font-family="'DejaVu Sans','Liberation Sans',sans-serif" font-size="7.90" fill="#141000" font-weight="bold" text-anchor="end" textLength="38.8" lengthAdjust="spacingAndGlyphs" >11244.19</text>
<text x="49.0" y="62.0" font-family="'DejaVu Sans','Liberation Sans',sans-serif" font-size="7.90" fill="#5c5220" font-weight="normal" text-anchor="end" textLength="27.5" lengthAdjust="spacingAndGlyphs" >Düşük</text>
<text x="104.6" y="62.0" font-family="'DejaVu Sans','Liberation Sans',sans-serif" font-size="7.90" fill="#141000" font-weight="bold" text-anchor="end" textLength="38.8" lengthAdjust="spacingAndGlyphs" >11147.98</text>
<text x="49.0" y="72.3" font-family="'DejaVu Sans','Liberation Sans',sans-serif" font-size="7.90" fill="#5c5220" font-weight="normal" text-anchor="end" textLength="34.3" lengthAdjust="spacingAndGlyphs" >Kapanış</text>
<text x="104.6" y="72.3" font-family="'DejaVu Sans','Liberation Sans',sans-serif" font-size="7.90" fill="#141000" font-weight="bold" text-anchor="end" textLength="38.8" lengthAdjust="spacingAndGlyphs" >11238.36</text>
<text x="49.0" y="83.1" font-family="'DejaVu Sans','Liberation Sans',sans-serif" font-size="7.90" fill="#5c5220" font-weight="normal" text-anchor="end" textLength="32.0" lengthAdjust="spacingAndGlyphs" >Ağ. Ort</text>
<text x="49.0" y="93.3" font-family="'DejaVu Sans','Liberation Sans',sans-serif" font-size="7.90" fill="#5c5220" font-weight="normal" text-anchor="end" textLength="18.6" lengthAdjust="spacingAndGlyphs" >Fark</text>
<text x="104.6" y="93.3" font-family="'DejaVu Sans','Liberation Sans',sans-serif" font-size="7.90" fill="#141000" font-weight="bold" text-anchor="end" textLength="22.8" lengthAdjust="spacingAndGlyphs" >48.86</text>
<line x1="952.40" y1="18.00" x2="952.40" y2="250.00" stroke="#111" stroke-width="1.10" />
<line x1="949.00" y1="26.55" x2="952.40" y2="26.55" stroke="#111" stroke-width="1.00" />
<line x1="945.40" y1="43.40" x2="952.40" y2="43.40" stroke="#111" stroke-width="1.00" />
<line x1="949.00" y1="60.25" x2="952.40" y2="60.25" stroke="#111" stroke-width="1.00" />
<line x1="945.40" y1="77.10" x2="952.40" y2="77.10" stroke="#111" stroke-width="1.00" />
<line x1="949.00" y1="93.95" x2="952.40" y2="93.95" stroke="#111" stroke-width="1.00" />
<line x1="945.40" y1="110.80" x2="952.40" y2="110.80" stroke="#111" stroke-width="1.00" />
<line x1="949.00" y1="127.65" x2="952.40" y2="127.65" stroke="#111" stroke-width="1.00" />
<line x1="945.40" y1="144.50" x2="952.40" y2="144.50" stroke="#111" stroke-width="1.00" />
<line x1="949.00" y1="161.35" x2="952.40" y2="161.35" stroke="#111" stroke-width="1.00" />
<line x1="945.40" y1="178.20" x2="952.40" y2="178.20" stroke="#111" stroke-width="1.00" />
<line x1="949.00" y1="195.05" x2="952.40" y2="195.05" stroke="#111" stroke-width="1.00" />
<line x1="945.40" y1="211.90" x2="952.40" y2="211.90" stroke="#111" stroke-width="1.00" />
<line x1="949.00" y1="228.75" x2="952.40" y2="228.75" stroke="#111" stroke-width="1.00" />
<line x1="945.40" y1="245.60" x2="952.40" y2="245.60" stroke="#808080" stroke-width="1.00" />
<text x="955.3" y="46.7" font-family="'DejaVu Sans','Liberation Sans',sans-serif" font-size="8.00" fill="#262626" font-weight="normal" text-anchor="start" textLength="32.6" lengthAdjust="spacingAndGlyphs" >11500.</text>
<text x="955.3" y="114.2" font-family="'DejaVu Sans','Liberation Sans',sans-serif" font-size="8.00" fill="#262626" font-weight="normal" text-anchor="start" textLength="32.6" lengthAdjust="spacingAndGlyphs" >11000.</text>
<text x="955.3" y="147.8" font-family="'DejaVu Sans','Liberation Sans',sans-serif" font-size="8.00" fill="#262626" font-weight="normal" text-anchor="start" textLength="32.6" lengthAdjust="spacingAndGlyphs" >10750.</text>
<text x="955.3" y="181.5" font-family="'DejaVu Sans','Liberation Sans',sans-serif" font-size="8.00" fill="#262626" font-weight="normal" text-anchor="start" textLength="32.6" lengthAdjust="spacingAndGlyphs" >10500.</text>
<text x="955.3" y="215.2" font-family="'DejaVu Sans','Liberation Sans',sans-serif" font-size="8.00" fill="#262626" font-weight="normal" text-anchor="start" textLength="32.6" lengthAdjust="spacingAndGlyphs" >10250.</text>
<text x="955.3" y="249.0" font-family="'DejaVu Sans','Liberation Sans',sans-serif" font-size="8.00" fill="#262626" font-weight="normal" text-anchor="start" textLength="32.6" lengthAdjust="spacingAndGlyphs" >10000.</text>
<rect x="954.00" y="73.60" width="56.00" height="10.40" fill="#ffffff" />
<text x="955.1" y="83.0" font-family="'DejaVu Sans','Liberation Sans',sans-serif" font-size="8.00" fill="#262626" font-weight="normal" text-anchor="start" textLength="45.0" lengthAdjust="spacingAndGlyphs" >11238.36</text>
<line x1="937.00" y1="79.40" x2="952.00" y2="79.40" stroke="#222" stroke-width="1.00" />
<line x1="945.40" y1="78.20" x2="952.00" y2="78.20" stroke="#444" stroke-width="1.00" />
<line x1="933.50" y1="18.00" x2="933.50" y2="445.00" stroke="#858585" stroke-width="1.00" />
<g clip-path="url(#cmom)">
<line x1="5.90" y1="283.50" x2="952.40" y2="283.50" stroke="#1e8a1e" stroke-width="1.00" />
<polyline points="6.3,282.3 17.5,281.3 25.0,282.3 46.3,275.6 59.6,275.0 81.0,273.0 104.7,271.3 116.1,274.0 127.6,275.0 139.1,289.5 150.6,298.0 162.1,297.0 173.6,301.0 185.2,309.4 196.7,305.6 208.2,302.4 219.7,306.4 231.2,306.4 242.7,280.6 254.2,272.3 265.7,275.0 277.2,275.0 288.7,261.0 300.2,258.0 311.8,264.3 323.3,257.3 334.8,257.3 346.3,279.3 357.8,286.0 369.3,288.0 380.8,279.3 392.3,287.6 403.8,298.0 415.3,298.6 426.9,297.3 438.4,299.3 449.9,294.8 461.4,292.3 472.9,295.6 484.4,306.4 495.9,299.3 507.4,296.3 518.9,297.3 530.5,292.3 542.0,291.0 553.5,288.6 565.0,286.8 576.5,273.5 588.0,269.8 599.5,273.0 611.0,271.0 622.5,263.5 634.0,268.0 645.5,272.3 657.1,273.0 668.6,271.3 680.1,283.8 691.6,285.6 703.1,291.3 714.6,288.3 726.1,291.8 737.6,296.3 749.1,289.8 760.6,289.3 772.2,287.6 783.7,281.8 795.2,279.8 806.7,275.0 818.2,278.6 829.7,276.3 841.2,273.5 852.7,278.6 864.2,273.5 875.8,277.6 887.3,282.3 898.8,284.3 910.3,281.0 921.8,275.0 933.3,275.0" fill="none" stroke="#ff2222" stroke-width="1" shape-rendering="crispEdges"/>
<rect x="7.00" y="256.00" width="51.00" height="8.50" fill="#fff" />
<rect x="7.00" y="266.00" width="38.50" height="8.80" fill="#fff" />
<rect x="60.50" y="266.00" width="43.50" height="8.80" fill="#fff" />
<text x="8.6" y="263.6" font-family="'DejaVu Sans','Liberation Sans',sans-serif" font-size="8.20" fill="#141414" font-weight="normal" text-anchor="start" textLength="48.0" lengthAdjust="spacingAndGlyphs" >Momentum</text>
<text x="7.8" y="273.7" font-family="'DejaVu Sans','Liberation Sans',sans-serif" font-size="8.20" fill="#ff2828" font-weight="normal" text-anchor="start" textLength="36.4" lengthAdjust="spacingAndGlyphs" >MOM(9)</text>
<text x="68.0" y="273.7" font-family="'DejaVu Sans','Liberation Sans',sans-serif" font-size="8.20" fill="#ff2828" font-weight="normal" text-anchor="start" textLength="34.9" lengthAdjust="spacingAndGlyphs" >:102.97</text>
<line x1="952.40" y1="255.50" x2="952.40" y2="309.60" stroke="#111" stroke-width="1.10" />
<line x1="945.40" y1="256.80" x2="952.40" y2="256.80" stroke="#111" stroke-width="1.00" />
<line x1="949.00" y1="263.00" x2="952.40" y2="263.00" stroke="#111" stroke-width="1.00" />
<line x1="945.40" y1="269.30" x2="952.40" y2="269.30" stroke="#111" stroke-width="1.00" />
<line x1="949.00" y1="276.10" x2="952.40" y2="276.10" stroke="#111" stroke-width="1.00" />
<line x1="945.40" y1="283.10" x2="952.40" y2="283.10" stroke="#111" stroke-width="1.00" />
<line x1="949.00" y1="290.20" x2="952.40" y2="290.20" stroke="#111" stroke-width="1.00" />
<line x1="945.40" y1="297.30" x2="952.40" y2="297.30" stroke="#111" stroke-width="1.00" />
<line x1="949.00" y1="303.60" x2="952.40" y2="303.60" stroke="#111" stroke-width="1.00" />
<line x1="945.40" y1="309.80" x2="952.40" y2="309.80" stroke="#111" stroke-width="1.00" />
<text x="955.3" y="259.8" font-family="'DejaVu Sans','Liberation Sans',sans-serif" font-size="8.00" fill="#262626" font-weight="normal" text-anchor="start" textLength="20.3" lengthAdjust="spacingAndGlyphs" >110.</text>
<text x="955.3" y="272.7" font-family="'DejaVu Sans','Liberation Sans',sans-serif" font-size="8.00" fill="#262626" font-weight="normal" text-anchor="start" textLength="20.3" lengthAdjust="spacingAndGlyphs" >105.</text>
<text x="955.3" y="286.7" font-family="'DejaVu Sans','Liberation Sans',sans-serif" font-size="8.00" fill="#262626" font-weight="normal" text-anchor="start" textLength="20.3" lengthAdjust="spacingAndGlyphs" >100.</text>
<text x="955.3" y="300.5" font-family="'DejaVu Sans','Liberation Sans',sans-serif" font-size="8.00" fill="#262626" font-weight="normal" text-anchor="start" textLength="14.9" lengthAdjust="spacingAndGlyphs" >95.</text>
<text x="955.3" y="314.2" font-family="'DejaVu Sans','Liberation Sans',sans-serif" font-size="8.00" fill="#262626" font-weight="normal" text-anchor="start" textLength="14.9" lengthAdjust="spacingAndGlyphs" >90.</text>
</g>
<line x1="933.50" y1="251.80" x2="933.50" y2="311.60" stroke="#858585" stroke-width="1.00" />
<g clip-path="url(#crsi)">
<line x1="107.00" y1="327.50" x2="952.40" y2="327.50" stroke="#962626" stroke-width="1.00" />
<polyline points="6.3,334.4 12.0,331.0 25.0,327.5 37.6,324.0 46.3,321.4 57.6,320.0 68.9,317.0 80.2,316.0 89.4,324.4 98.0,327.0 107.2,328.7 116.1,332.0 127.6,333.7 139.1,350.7 150.6,357.0 162.1,352.5 173.6,356.2 185.2,364.5 196.7,362.0 208.2,357.5 219.7,363.2 231.2,363.2 242.7,342.0 254.2,338.7 265.7,338.2 277.2,343.2 288.7,337.0 300.2,333.7 311.8,337.7 323.3,336.4 334.8,336.4 346.3,343.2 357.8,347.0 369.3,348.7 380.8,342.4 392.3,346.4 403.8,352.0 415.3,356.5 426.9,353.5 438.4,355.2 449.9,355.2 461.4,356.5 472.9,360.2 484.4,365.5 495.9,359.5 507.4,362.7 518.9,365.2 530.5,355.2 542.0,356.2 553.5,352.7 565.0,350.2 576.5,341.2 588.0,343.7 599.5,343.7 611.0,344.4 622.5,341.2 634.0,338.2 645.5,343.7 657.1,342.0 668.6,339.4 680.1,344.4 691.6,349.5 703.1,355.2 714.6,353.2 726.1,353.2 737.6,355.2 749.1,350.0 760.6,349.5 772.2,343.7 783.7,340.7 795.2,342.7 806.7,344.4 818.2,345.2 829.7,343.7 841.2,342.4 852.7,344.7 864.2,336.2 875.8,336.2 887.3,340.7 898.8,346.2 910.3,343.2 921.8,336.4 933.3,335.2" fill="none" stroke="#ff2222" stroke-width="1" shape-rendering="crispEdges"/>
<rect x="7.50" y="316.50" width="29.50" height="8.50" fill="#fff" />
<rect x="8.50" y="325.20" width="36.00" height="9.80" fill="#fff" />
<rect x="58.00" y="325.20" width="49.00" height="9.80" fill="#fff" />
<text x="8.8" y="324.2" font-family="'DejaVu Sans','Liberation Sans',sans-serif" font-size="8.20" fill="#141414" font-weight="normal" text-anchor="start" textLength="15.4" lengthAdjust="spacingAndGlyphs" >RSI</text>
<text x="8.5" y="333.7" font-family="'DejaVu Sans','Liberation Sans',sans-serif" font-size="8.20" fill="#ff2828" font-weight="normal" text-anchor="start" textLength="35.0" lengthAdjust="spacingAndGlyphs" >RSI(14)</text>
<text x="64.6" y="333.7" font-family="'DejaVu Sans','Liberation Sans',sans-serif" font-size="8.20" fill="#ff2828" font-weight="normal" text-anchor="start" textLength="41.8" lengthAdjust="spacingAndGlyphs" >:62.4308</text>
<line x1="952.40" y1="316.00" x2="952.40" y2="366.00" stroke="#111" stroke-width="1.10" />
<line x1="945.40" y1="316.10" x2="952.40" y2="316.10" stroke="#111" stroke-width="1.00" />
<line x1="949.00" y1="322.00" x2="952.40" y2="322.00" stroke="#111" stroke-width="1.00" />
<line x1="945.40" y1="327.70" x2="952.40" y2="327.70" stroke="#111" stroke-width="1.00" />
<line x1="949.00" y1="332.70" x2="952.40" y2="332.70" stroke="#111" stroke-width="1.00" />
<line x1="945.40" y1="337.40" x2="952.40" y2="337.40" stroke="#111" stroke-width="1.00" />
<line x1="949.00" y1="342.70" x2="952.40" y2="342.70" stroke="#111" stroke-width="1.00" />
<line x1="945.40" y1="347.70" x2="952.40" y2="347.70" stroke="#111" stroke-width="1.00" />
<line x1="949.00" y1="352.70" x2="952.40" y2="352.70" stroke="#111" stroke-width="1.00" />
<line x1="945.40" y1="357.70" x2="952.40" y2="357.70" stroke="#111" stroke-width="1.00" />
<line x1="949.00" y1="363.20" x2="952.40" y2="363.20" stroke="#111" stroke-width="1.00" />
<text x="955.3" y="320.1" font-family="'DejaVu Sans','Liberation Sans',sans-serif" font-size="8.00" fill="#262626" font-weight="normal" text-anchor="start" textLength="14.9" lengthAdjust="spacingAndGlyphs" >80.</text>
<text x="955.3" y="330.6" font-family="'DejaVu Sans','Liberation Sans',sans-serif" font-size="8.00" fill="#262626" font-weight="normal" text-anchor="start" textLength="14.9" lengthAdjust="spacingAndGlyphs" >70.</text>
<text x="955.3" y="340.6" font-family="'DejaVu Sans','Liberation Sans',sans-serif" font-size="8.00" fill="#262626" font-weight="normal" text-anchor="start" textLength="14.9" lengthAdjust="spacingAndGlyphs" >60.</text>
<text x="955.3" y="350.6" font-family="'DejaVu Sans','Liberation Sans',sans-serif" font-size="8.00" fill="#262626" font-weight="normal" text-anchor="start" textLength="14.9" lengthAdjust="spacingAndGlyphs" >50.</text>
<text x="955.3" y="360.6" font-family="'DejaVu Sans','Liberation Sans',sans-serif" font-size="8.00" fill="#262626" font-weight="normal" text-anchor="start" textLength="14.9" lengthAdjust="spacingAndGlyphs" >40.</text>
<text x="955.3" y="371.2" font-family="'DejaVu Sans','Liberation Sans',sans-serif" font-size="8.00" fill="#262626" font-weight="normal" text-anchor="start" textLength="14.9" lengthAdjust="spacingAndGlyphs" >30.</text>
</g>
<line x1="933.50" y1="312.50" x2="933.50" y2="367.70" stroke="#858585" stroke-width="1.00" />
<g clip-path="url(#cmacd)">
<line x1="6.30" y1="400.70" x2="952.40" y2="400.70" stroke="#a02a2a" stroke-width="1.00" />
<polyline points="6.4,376.0 12.5,375.5 24.0,376.5 35.5,377.5 47.0,377.5 58.5,377.0 70.0,376.3 81.6,375.8 93.1,375.3 104.6,375.0 116.1,375.0 127.6,375.5 139.1,376.8 150.6,379.3 162.1,382.0 173.6,385.0 185.2,387.5 196.7,390.0 208.2,392.6 219.7,396.3 231.2,400.0 242.7,401.6 254.2,401.3 265.7,400.8 277.2,400.0 288.7,398.8 300.2,397.6 311.8,395.8 323.3,394.3 334.8,392.6 346.3,391.8 357.8,391.3 369.3,391.3 380.8,391.3 392.3,391.6 403.8,393.0 415.3,394.6 426.9,395.8 438.4,397.6 449.9,399.3 461.4,400.8 472.9,402.6 484.4,405.0 495.9,407.0 507.4,408.8 518.9,410.6 530.5,412.6 542.0,413.8 553.5,414.6 565.0,414.6 576.5,413.8 588.0,412.6 599.5,410.8 611.0,409.3 622.5,407.6 634.0,405.8 645.5,404.3 657.1,403.0 668.6,401.6 680.1,400.6 691.6,399.6 703.1,399.6 714.6,400.0 726.1,400.8 737.6,401.6 749.1,402.0 760.6,402.6 772.2,402.6 783.7,402.0 795.2,401.6 806.7,401.0 818.2,400.8 829.7,400.0 841.2,399.3 852.7,398.8 864.2,398.3 875.8,397.6 887.3,396.8 898.8,396.3 910.3,395.8 921.8,395.0 933.3,393.8" fill="none" stroke="#28f2f2" stroke-width="1" shape-rendering="crispEdges"/>
<polyline points="6.4,378.0 12.5,379.0 24.0,379.3 35.5,379.3 47.0,378.8 58.5,377.5 70.0,375.0 81.6,373.0 93.1,372.5 104.6,373.3 116.1,375.0 127.6,377.0 139.1,382.0 150.6,387.0 162.1,390.8 173.6,394.6 185.2,400.0 196.7,403.3 208.2,406.3 219.7,409.3 231.2,412.0 242.7,407.0 254.2,403.8 265.7,400.8 277.2,398.8 288.7,395.0 300.2,391.3 311.8,389.5 323.3,388.3 334.8,387.0 346.3,388.0 357.8,390.0 369.3,391.8 380.8,391.8 392.3,392.6 403.8,397.0 415.3,400.0 426.9,401.8 438.4,403.3 449.9,405.0 461.4,406.8 472.9,409.3 484.4,412.6 495.9,414.6 507.4,416.9 518.9,419.4 530.5,419.4 542.0,418.4 553.5,417.0 565.0,415.0 576.5,411.3 588.0,408.0 599.5,405.6 611.0,403.8 622.5,401.8 634.0,399.6 645.5,398.3 657.1,397.0 668.6,395.8 680.1,395.0 691.6,396.8 703.1,399.3 714.6,401.3 726.1,402.6 737.6,403.8 749.1,404.3 760.6,403.8 772.2,402.6 783.7,401.3 795.2,400.0 806.7,399.3 818.2,398.8 829.7,398.0 841.2,397.6 852.7,396.8 864.2,395.6 875.8,394.6 887.3,393.8 898.8,394.0 910.3,394.0 921.8,392.6 933.3,391.3" fill="none" stroke="#ff2222" stroke-width="1" shape-rendering="crispEdges"/>
<rect x="7.00" y="381.80" width="63.50" height="9.00" fill="#fff" />
<rect x="76.00" y="381.80" width="36.00" height="9.00" fill="#fff" />
<rect x="130.50" y="379.20" width="57.00" height="8.80" fill="#fff" />
<rect x="196.00" y="379.20" width="29.00" height="8.80" fill="#fff" />
<text x="8.8" y="379.6" font-family="'DejaVu Sans','Liberation Sans',sans-serif" font-size="8.20" fill="#141414" font-weight="normal" text-anchor="start" textLength="56.9" lengthAdjust="spacingAndGlyphs" >MA.Conv.Div</text>
<text x="7.5" y="389.8" font-family="'DejaVu Sans','Liberation Sans',sans-serif" font-size="8.20" fill="#ff2828" font-weight="normal" text-anchor="start" textLength="62.0" lengthAdjust="spacingAndGlyphs" >MACD(26,12)</text>
<text x="81.4" y="389.8" font-family="'DejaVu Sans','Liberation Sans',sans-serif" font-size="8.20" fill="#ff2828" font-weight="normal" text-anchor="start" textLength="29.6" lengthAdjust="spacingAndGlyphs" >:88.34</text>
<text x="131.5" y="386.2" font-family="'DejaVu Sans','Liberation Sans',sans-serif" font-size="8.20" fill="#1fe6e6" font-weight="normal" text-anchor="start" textLength="55.0" lengthAdjust="spacingAndGlyphs" >TRIGGER(9)</text>
<text x="201.0" y="386.2" font-family="'DejaVu Sans','Liberation Sans',sans-serif" font-size="8.20" fill="#1fe6e6" font-weight="normal" text-anchor="start" textLength="23.0" lengthAdjust="spacingAndGlyphs" >:59.2</text>
<line x1="952.40" y1="372.50" x2="952.40" y2="418.90" stroke="#111" stroke-width="1.10" />
<line x1="949.00" y1="373.80" x2="952.40" y2="373.80" stroke="#111" stroke-width="1.00" />
<line x1="945.40" y1="379.30" x2="952.40" y2="379.30" stroke="#111" stroke-width="1.00" />
<line x1="949.00" y1="384.50" x2="952.40" y2="384.50" stroke="#111" stroke-width="1.00" />
<line x1="945.40" y1="390.00" x2="952.40" y2="390.00" stroke="#111" stroke-width="1.00" />
<line x1="949.00" y1="395.60" x2="952.40" y2="395.60" stroke="#111" stroke-width="1.00" />
<line x1="945.40" y1="400.70" x2="952.40" y2="400.70" stroke="#111" stroke-width="1.00" />
<line x1="949.00" y1="406.30" x2="952.40" y2="406.30" stroke="#111" stroke-width="1.00" />
<line x1="945.40" y1="411.80" x2="952.40" y2="411.80" stroke="#111" stroke-width="1.00" />
<line x1="949.00" y1="417.10" x2="952.40" y2="417.10" stroke="#111" stroke-width="1.00" />
<text x="955.3" y="372.1" font-family="'DejaVu Sans','Liberation Sans',sans-serif" font-size="8.00" fill="#262626" font-weight="normal" text-anchor="start" textLength="20.3" lengthAdjust="spacingAndGlyphs" >300.</text>
<text x="955.3" y="382.9" font-family="'DejaVu Sans','Liberation Sans',sans-serif" font-size="8.00" fill="#262626" font-weight="normal" text-anchor="start" textLength="20.3" lengthAdjust="spacingAndGlyphs" >200.</text>
<text x="955.3" y="393.5" font-family="'DejaVu Sans','Liberation Sans',sans-serif" font-size="8.00" fill="#262626" font-weight="normal" text-anchor="start" textLength="20.3" lengthAdjust="spacingAndGlyphs" >100.</text>
<text x="955.3" y="403.7" font-family="'DejaVu Sans','Liberation Sans',sans-serif" font-size="8.00" fill="#262626" font-weight="normal" text-anchor="start" textLength="5.9" lengthAdjust="spacingAndGlyphs" >0</text>
<text x="955.3" y="414.9" font-family="'DejaVu Sans','Liberation Sans',sans-serif" font-size="8.00" fill="#262626" font-weight="normal" text-anchor="start" textLength="24.8" lengthAdjust="spacingAndGlyphs" >-100.</text>
</g>
<line x1="933.50" y1="368.60" x2="933.50" y2="421.00" stroke="#858585" stroke-width="1.00" />
<g clip-path="url(#cvol)">
<line x1="12.50" y1="447.20" x2="12.50" y2="464.40" stroke="#4a4a4a" stroke-width="0.90" />
<line x1="24.01" y1="445.20" x2="24.01" y2="464.40" stroke="#4a4a4a" stroke-width="0.90" />
<line x1="35.52" y1="445.20" x2="35.52" y2="464.40" stroke="#4a4a4a" stroke-width="0.90" />
<line x1="47.03" y1="445.20" x2="47.03" y2="464.40" stroke="#4a4a4a" stroke-width="0.90" />
<line x1="58.54" y1="445.20" x2="58.54" y2="464.40" stroke="#4a4a4a" stroke-width="0.90" />
<line x1="70.05" y1="445.20" x2="70.05" y2="464.40" stroke="#4a4a4a" stroke-width="0.90" />
<line x1="81.56" y1="445.20" x2="81.56" y2="464.40" stroke="#4a4a4a" stroke-width="0.90" />
<line x1="93.07" y1="445.20" x2="93.07" y2="464.40" stroke="#4a4a4a" stroke-width="0.90" />
<line x1="104.58" y1="447.70" x2="104.58" y2="464.40" stroke="#4a4a4a" stroke-width="0.90" />
<line x1="116.09" y1="446.40" x2="116.09" y2="464.40" stroke="#4a4a4a" stroke-width="0.90" />
<line x1="127.60" y1="447.70" x2="127.60" y2="464.40" stroke="#4a4a4a" stroke-width="0.90" />
<line x1="139.11" y1="433.90" x2="139.11" y2="464.40" stroke="#4a4a4a" stroke-width="0.90" />
<line x1="150.62" y1="441.40" x2="150.62" y2="464.40" stroke="#4a4a4a" stroke-width="0.90" />
<line x1="162.13" y1="443.90" x2="162.13" y2="464.40" stroke="#4a4a4a" stroke-width="0.90" />
<line x1="173.64" y1="441.40" x2="173.64" y2="464.40" stroke="#4a4a4a" stroke-width="0.90" />
<line x1="185.15" y1="448.40" x2="185.15" y2="464.40" stroke="#4a4a4a" stroke-width="0.90" />
<line x1="196.66" y1="445.20" x2="196.66" y2="464.40" stroke="#4a4a4a" stroke-width="0.90" />
<line x1="208.17" y1="447.70" x2="208.17" y2="464.40" stroke="#4a4a4a" stroke-width="0.90" />
<line x1="219.68" y1="439.60" x2="219.68" y2="464.40" stroke="#4a4a4a" stroke-width="0.90" />
<line x1="231.19" y1="449.40" x2="231.19" y2="464.40" stroke="#4a4a4a" stroke-width="0.90" />
<line x1="242.70" y1="434.40" x2="242.70" y2="464.40" stroke="#4a4a4a" stroke-width="0.90" />
<line x1="254.21" y1="439.60" x2="254.21" y2="464.40" stroke="#4a4a4a" stroke-width="0.90" />
<line x1="265.72" y1="442.70" x2="265.72" y2="464.40" stroke="#4a4a4a" stroke-width="0.90" />
<line x1="277.23" y1="441.40" x2="277.23" y2="464.40" stroke="#4a4a4a" stroke-width="0.90" />
<line x1="288.74" y1="438.90" x2="288.74" y2="464.40" stroke="#4a4a4a" stroke-width="0.90" />
<line x1="300.25" y1="439.60" x2="300.25" y2="464.40" stroke="#4a4a4a" stroke-width="0.90" />
<line x1="311.76" y1="441.40" x2="311.76" y2="464.40" stroke="#4a4a4a" stroke-width="0.90" />
<line x1="323.27" y1="439.60" x2="323.27" y2="464.40" stroke="#4a4a4a" stroke-width="0.90" />
<line x1="334.78" y1="447.20" x2="334.78" y2="464.40" stroke="#4a4a4a" stroke-width="0.90" />
<line x1="346.29" y1="443.40" x2="346.29" y2="464.40" stroke="#4a4a4a" stroke-width="0.90" />
<line x1="357.80" y1="444.40" x2="357.80" y2="464.40" stroke="#4a4a4a" stroke-width="0.90" />
<line x1="369.31" y1="445.20" x2="369.31" y2="464.40" stroke="#4a4a4a" stroke-width="0.90" />
<line x1="380.82" y1="440.70" x2="380.82" y2="464.40" stroke="#4a4a4a" stroke-width="0.90" />
<line x1="392.33" y1="444.40" x2="392.33" y2="464.40" stroke="#4a4a4a" stroke-width="0.90" />
<line x1="403.84" y1="445.90" x2="403.84" y2="464.40" stroke="#4a4a4a" stroke-width="0.90" />
<line x1="415.35" y1="446.90" x2="415.35" y2="464.40" stroke="#4a4a4a" stroke-width="0.90" />
<line x1="426.86" y1="446.90" x2="426.86" y2="464.40" stroke="#4a4a4a" stroke-width="0.90" />
<line x1="438.37" y1="444.40" x2="438.37" y2="464.40" stroke="#4a4a4a" stroke-width="0.90" />
<line x1="449.88" y1="446.90" x2="449.88" y2="464.40" stroke="#4a4a4a" stroke-width="0.90" />
<line x1="461.39" y1="448.40" x2="461.39" y2="464.40" stroke="#4a4a4a" stroke-width="0.90" />
<line x1="472.90" y1="448.40" x2="472.90" y2="464.40" stroke="#4a4a4a" stroke-width="0.90" />
<line x1="484.41" y1="446.90" x2="484.41" y2="464.40" stroke="#4a4a4a" stroke-width="0.90" />
<line x1="495.92" y1="444.40" x2="495.92" y2="464.40" stroke="#4a4a4a" stroke-width="0.90" />
<line x1="507.43" y1="445.20" x2="507.43" y2="464.40" stroke="#4a4a4a" stroke-width="0.90" />
<line x1="518.94" y1="445.20" x2="518.94" y2="464.40" stroke="#4a4a4a" stroke-width="0.90" />
<line x1="530.45" y1="442.20" x2="530.45" y2="464.40" stroke="#4a4a4a" stroke-width="0.90" />
<line x1="541.96" y1="446.90" x2="541.96" y2="464.40" stroke="#4a4a4a" stroke-width="0.90" />
<line x1="553.47" y1="445.90" x2="553.47" y2="464.40" stroke="#4a4a4a" stroke-width="0.90" />
<line x1="564.98" y1="441.40" x2="564.98" y2="464.40" stroke="#4a4a4a" stroke-width="0.90" />
<line x1="576.49" y1="425.60" x2="576.49" y2="464.40" stroke="#4a4a4a" stroke-width="0.90" />
<line x1="588.00" y1="445.90" x2="588.00" y2="464.40" stroke="#4a4a4a" stroke-width="0.90" />
<line x1="599.51" y1="457.20" x2="599.51" y2="464.40" stroke="#4a4a4a" stroke-width="0.90" />
<line x1="611.02" y1="446.90" x2="611.02" y2="464.40" stroke="#4a4a4a" stroke-width="0.90" />
<line x1="622.53" y1="442.20" x2="622.53" y2="464.40" stroke="#4a4a4a" stroke-width="0.90" />
<line x1="634.04" y1="439.60" x2="634.04" y2="464.40" stroke="#4a4a4a" stroke-width="0.90" />
<line x1="645.55" y1="443.20" x2="645.55" y2="464.40" stroke="#4a4a4a" stroke-width="0.90" />
<line x1="657.06" y1="440.70" x2="657.06" y2="464.40" stroke="#4a4a4a" stroke-width="0.90" />
<line x1="668.57" y1="441.40" x2="668.57" y2="464.40" stroke="#4a4a4a" stroke-width="0.90" />
<line x1="680.08" y1="443.20" x2="680.08" y2="464.40" stroke="#4a4a4a" stroke-width="0.90" />
<line x1="691.59" y1="443.90" x2="691.59" y2="464.40" stroke="#4a4a4a" stroke-width="0.90" />
<line x1="703.10" y1="438.90" x2="703.10" y2="464.40" stroke="#4a4a4a" stroke-width="0.90" />
<line x1="714.61" y1="445.90" x2="714.61" y2="464.40" stroke="#4a4a4a" stroke-width="0.90" />
<line x1="726.12" y1="446.90" x2="726.12" y2="464.40" stroke="#4a4a4a" stroke-width="0.90" />
<line x1="737.63" y1="449.40" x2="737.63" y2="464.40" stroke="#4a4a4a" stroke-width="0.90" />
<line x1="749.14" y1="443.90" x2="749.14" y2="464.40" stroke="#4a4a4a" stroke-width="0.90" />
<line x1="760.65" y1="445.90" x2="760.65" y2="464.40" stroke="#4a4a4a" stroke-width="0.90" />
<line x1="772.16" y1="442.20" x2="772.16" y2="464.40" stroke="#4a4a4a" stroke-width="0.90" />
<line x1="783.67" y1="445.90" x2="783.67" y2="464.40" stroke="#4a4a4a" stroke-width="0.90" />
<line x1="795.18" y1="446.90" x2="795.18" y2="464.40" stroke="#4a4a4a" stroke-width="0.90" />
<line x1="806.69" y1="445.20" x2="806.69" y2="464.40" stroke="#4a4a4a" stroke-width="0.90" />
<line x1="818.20" y1="441.40" x2="818.20" y2="464.40" stroke="#4a4a4a" stroke-width="0.90" />
<line x1="829.71" y1="447.70" x2="829.71" y2="464.40" stroke="#4a4a4a" stroke-width="0.90" />
<line x1="841.22" y1="447.70" x2="841.22" y2="464.40" stroke="#4a4a4a" stroke-width="0.90" />
<line x1="852.73" y1="448.40" x2="852.73" y2="464.40" stroke="#4a4a4a" stroke-width="0.90" />
<line x1="864.24" y1="443.90" x2="864.24" y2="464.40" stroke="#4a4a4a" stroke-width="0.90" />
<line x1="875.75" y1="442.20" x2="875.75" y2="464.40" stroke="#4a4a4a" stroke-width="0.90" />
<line x1="887.26" y1="437.10" x2="887.26" y2="464.40" stroke="#4a4a4a" stroke-width="0.90" />
<line x1="898.77" y1="445.20" x2="898.77" y2="464.40" stroke="#4a4a4a" stroke-width="0.90" />
<line x1="910.28" y1="443.20" x2="910.28" y2="464.40" stroke="#4a4a4a" stroke-width="0.90" />
<line x1="921.79" y1="442.20" x2="921.79" y2="464.40" stroke="#4a4a4a" stroke-width="0.90" />
<line x1="6.20" y1="464.50" x2="952.40" y2="464.50" stroke="#2a9a2a" stroke-width="1.20" />
<text x="8.8" y="433.5" font-family="'DejaVu Sans','Liberation Sans',sans-serif" font-size="8.20" fill="#141414" font-weight="normal" text-anchor="start" textLength="55.0" lengthAdjust="spacingAndGlyphs" >Ag.Ort x Vol</text>
<rect x="7.50" y="434.20" width="131.00" height="10.80" fill="#fff" />
<text x="8.8" y="443.0" font-family="'DejaVu Sans','Liberation Sans',sans-serif" font-size="8.20" fill="#9a9498" font-weight="normal" text-anchor="start" textLength="10.0" lengthAdjust="spacingAndGlyphs" >TL</text>
<text x="54.0" y="443.0" font-family="'DejaVu Sans','Liberation Sans',sans-serif" font-size="8.20" fill="#9a9498" font-weight="normal" text-anchor="start" textLength="82.8" lengthAdjust="spacingAndGlyphs" >:130,755,700,000</text>
<line x1="952.40" y1="425.90" x2="952.40" y2="464.70" stroke="#111" stroke-width="1.10" />
<line x1="949.00" y1="427.60" x2="952.40" y2="427.60" stroke="#111" stroke-width="1.00" />
<line x1="945.40" y1="434.60" x2="952.40" y2="434.60" stroke="#111" stroke-width="1.00" />
<line x1="949.00" y1="442.20" x2="952.40" y2="442.20" stroke="#111" stroke-width="1.00" />
<line x1="945.40" y1="449.40" x2="952.40" y2="449.40" stroke="#111" stroke-width="1.00" />
<line x1="949.00" y1="457.00" x2="952.40" y2="457.00" stroke="#111" stroke-width="1.00" />
<text x="955.3" y="437.6" font-family="'DejaVu Sans','Liberation Sans',sans-serif" font-size="8.00" fill="#262626" font-weight="normal" text-anchor="start" textLength="35.0" lengthAdjust="spacingAndGlyphs" >200. Mr</text>
<text x="955.3" y="452.4" font-family="'DejaVu Sans','Liberation Sans',sans-serif" font-size="8.00" fill="#262626" font-weight="normal" text-anchor="start" textLength="35.0" lengthAdjust="spacingAndGlyphs" >100. Mr</text>
<text x="955.3" y="467.8" font-family="'DejaVu Sans','Liberation Sans',sans-serif" font-size="8.00" fill="#262626" font-weight="normal" text-anchor="start" textLength="5.8" lengthAdjust="spacingAndGlyphs" >0</text>
</g>
<line x1="933.50" y1="421.90" x2="933.50" y2="445.00" stroke="#858585" stroke-width="1.00" />
<line x1="933.50" y1="445.00" x2="933.50" y2="464.00" stroke="#e4e4e4" stroke-width="1.00" />
<rect x="11.20" y="469.40" width="2.60" height="5.40" fill="#0a0a0a" />
<rect x="22.71" y="469.40" width="2.60" height="5.40" fill="#0a0a0a" />
<rect x="34.22" y="469.40" width="2.60" height="5.40" fill="#0a0a0a" />
<rect x="45.73" y="469.40" width="2.60" height="5.40" fill="#0a0a0a" />
<rect x="57.24" y="469.40" width="2.60" height="5.40" fill="#0a0a0a" />
<rect x="68.75" y="469.40" width="2.60" height="5.40" fill="#0a0a0a" />
<rect x="80.26" y="469.40" width="2.60" height="5.40" fill="#0a0a0a" />
<rect x="91.77" y="469.40" width="2.60" height="5.40" fill="#0a0a0a" />
<rect x="103.28" y="469.40" width="2.60" height="5.40" fill="#0a0a0a" />
<rect x="114.79" y="469.40" width="2.60" height="5.40" fill="#0a0a0a" />
<rect x="126.30" y="469.40" width="2.60" height="5.40" fill="#0a0a0a" />
<rect x="137.81" y="469.40" width="2.60" height="5.40" fill="#0a0a0a" />
<rect x="149.32" y="469.40" width="2.60" height="5.40" fill="#0a0a0a" />
<rect x="160.83" y="469.40" width="2.60" height="5.40" fill="#0a0a0a" />
<rect x="172.34" y="469.40" width="2.60" height="5.40" fill="#0a0a0a" />
<rect x="183.85" y="469.40" width="2.60" height="5.40" fill="#0a0a0a" />
<rect x="195.36" y="469.40" width="2.60" height="5.40" fill="#0a0a0a" />
<rect x="206.87" y="469.40" width="2.60" height="5.40" fill="#0a0a0a" />
<rect x="218.38" y="469.40" width="2.60" height="5.40" fill="#0a0a0a" />
<rect x="229.89" y="469.40" width="2.60" height="5.40" fill="#0a0a0a" />
<rect x="241.40" y="469.40" width="2.60" height="5.40" fill="#0a0a0a" />
<rect x="264.42" y="469.40" width="2.60" height="5.40" fill="#0a0a0a" />
<rect x="275.93" y="469.40" width="2.60" height="5.40" fill="#0a0a0a" />
<rect x="287.44" y="469.40" width="2.60" height="5.40" fill="#0a0a0a" />
<rect x="298.95" y="469.40" width="2.60" height="5.40" fill="#0a0a0a" />
<rect x="310.46" y="469.40" width="2.60" height="5.40" fill="#0a0a0a" />
<rect x="321.97" y="469.40" width="2.60" height="5.40" fill="#0a0a0a" />
<rect x="333.48" y="469.40" width="2.60" height="5.40" fill="#0a0a0a" />
<rect x="344.99" y="469.40" width="2.60" height="5.40" fill="#0a0a0a" />
<rect x="356.50" y="469.40" width="2.60" height="5.40" fill="#0a0a0a" />
<rect x="368.01" y="469.40" width="2.60" height="5.40" fill="#0a0a0a" />
<rect x="379.52" y="469.40" width="2.60" height="5.40" fill="#0a0a0a" />
<rect x="391.03" y="469.40" width="2.60" height="5.40" fill="#0a0a0a" />
<rect x="402.54" y="469.40" width="2.60" height="5.40" fill="#0a0a0a" />
<rect x="414.05" y="469.40" width="2.60" height="5.40" fill="#0a0a0a" />
<rect x="425.56" y="469.40" width="2.60" height="5.40" fill="#0a0a0a" />
<rect x="437.07" y="469.40" width="2.60" height="5.40" fill="#0a0a0a" />
<rect x="448.58" y="469.40" width="2.60" height="5.40" fill="#0a0a0a" />
<rect x="460.09" y="469.40" width="2.60" height="5.40" fill="#0a0a0a" />
<rect x="471.60" y="469.40" width="2.60" height="5.40" fill="#0a0a0a" />
<rect x="483.11" y="469.40" width="2.60" height="5.40" fill="#0a0a0a" />
<rect x="494.62" y="469.40" width="2.60" height="5.40" fill="#0a0a0a" />
<rect x="506.13" y="469.40" width="2.60" height="5.40" fill="#0a0a0a" />
<rect x="517.64" y="469.40" width="2.60" height="5.40" fill="#0a0a0a" />
<rect x="529.15" y="469.40" width="2.60" height="5.40" fill="#0a0a0a" />
<rect x="540.66" y="469.40" width="2.60" height="5.40" fill="#0a0a0a" />
<rect x="552.17" y="469.40" width="2.60" height="5.40" fill="#0a0a0a" />
<rect x="563.68" y="469.40" width="2.60" height="5.40" fill="#0a0a0a" />
<rect x="575.19" y="469.40" width="2.60" height="5.40" fill="#0a0a0a" />
<rect x="586.70" y="469.40" width="2.60" height="5.40" fill="#0a0a0a" />
<rect x="598.21" y="469.40" width="2.60" height="5.40" fill="#0a0a0a" />
<rect x="609.72" y="469.40" width="2.60" height="5.40" fill="#0a0a0a" />
<rect x="621.23" y="469.40" width="2.60" height="5.40" fill="#0a0a0a" />
<rect x="632.74" y="469.40" width="2.60" height="5.40" fill="#0a0a0a" />
<rect x="644.25" y="469.40" width="2.60" height="5.40" fill="#0a0a0a" />
<rect x="655.76" y="469.40" width="2.60" height="5.40" fill="#0a0a0a" />
<rect x="667.27" y="469.40" width="2.60" height="5.40" fill="#0a0a0a" />
<rect x="678.78" y="469.40" width="2.60" height="5.40" fill="#0a0a0a" />
<rect x="690.29" y="469.40" width="2.60" height="5.40" fill="#0a0a0a" />
<rect x="701.80" y="469.40" width="2.60" height="5.40" fill="#0a0a0a" />
<rect x="713.31" y="469.40" width="2.60" height="5.40" fill="#0a0a0a" />
<rect x="724.82" y="469.40" width="2.60" height="5.40" fill="#0a0a0a" />
<rect x="736.33" y="469.40" width="2.60" height="5.40" fill="#0a0a0a" />
<rect x="747.84" y="469.40" width="2.60" height="5.40" fill="#0a0a0a" />
<rect x="759.35" y="469.40" width="2.60" height="5.40" fill="#0a0a0a" />
<rect x="770.86" y="469.40" width="2.60" height="5.40" fill="#0a0a0a" />
<rect x="782.37" y="469.40" width="2.60" height="5.40" fill="#0a0a0a" />
<rect x="793.88" y="469.40" width="2.60" height="5.40" fill="#0a0a0a" />
<rect x="805.39" y="469.40" width="2.60" height="5.40" fill="#0a0a0a" />
<rect x="816.90" y="469.40" width="2.60" height="5.40" fill="#0a0a0a" />
<rect x="828.41" y="469.40" width="2.60" height="5.40" fill="#0a0a0a" />
<rect x="839.92" y="469.40" width="2.60" height="5.40" fill="#0a0a0a" />
<rect x="851.43" y="469.40" width="2.60" height="5.40" fill="#0a0a0a" />
<rect x="862.94" y="469.40" width="2.60" height="5.40" fill="#0a0a0a" />
<rect x="874.45" y="469.40" width="2.60" height="5.40" fill="#0a0a0a" />
<rect x="885.96" y="469.40" width="2.60" height="5.40" fill="#0a0a0a" />
<rect x="897.47" y="469.40" width="2.60" height="5.40" fill="#0a0a0a" />
<rect x="908.98" y="469.40" width="2.60" height="5.40" fill="#0a0a0a" />
<rect x="920.49" y="469.40" width="2.60" height="5.40" fill="#0a0a0a" />
<rect x="932.00" y="469.40" width="2.60" height="5.40" fill="#0a0a0a" />
<rect x="126.50" y="470.00" width="2.20" height="4.40" fill="#f4f4f4" />
<line x1="128.00" y1="469.60" x2="128.00" y2="485.00" stroke="#222" stroke-width="0.90" />
<text x="129.4" y="483.6" font-family="'DejaVu Sans','Liberation Sans',sans-serif" font-size="8.20" fill="#222" font-weight="normal" text-anchor="start" textLength="27.5" lengthAdjust="spacingAndGlyphs" >09/25</text>
<rect x="379.72" y="470.00" width="2.20" height="4.40" fill="#f4f4f4" />
<line x1="381.22" y1="469.60" x2="381.22" y2="485.00" stroke="#222" stroke-width="0.90" />
<text x="382.6" y="483.6" font-family="'DejaVu Sans','Liberation Sans',sans-serif" font-size="8.20" fill="#222" font-weight="normal" text-anchor="start" textLength="27.5" lengthAdjust="spacingAndGlyphs" >10/25</text>
<rect x="632.94" y="470.00" width="2.20" height="4.40" fill="#f4f4f4" />
<line x1="634.44" y1="469.60" x2="634.44" y2="485.00" stroke="#222" stroke-width="0.90" />
<text x="635.8" y="483.6" font-family="'DejaVu Sans','Liberation Sans',sans-serif" font-size="8.20" fill="#222" font-weight="normal" text-anchor="start" textLength="27.5" lengthAdjust="spacingAndGlyphs" >11/25</text>
<rect x="863.14" y="470.00" width="2.20" height="4.40" fill="#f4f4f4" />
<line x1="864.64" y1="469.60" x2="864.64" y2="485.00" stroke="#222" stroke-width="0.90" />
<text x="866.0" y="483.6" font-family="'DejaVu Sans','Liberation Sans',sans-serif" font-size="8.20" fill="#222" font-weight="normal" text-anchor="start" textLength="27.5" lengthAdjust="spacingAndGlyphs" >12/25</text>
<rect x="18.70" y="486.00" width="912.00" height="7.60" fill="url(#dots)" />
<rect x="4.10" y="486.20" width="14.60" height="7.30" fill="#e4e4e4" />
<rect x="4.10" y="486.20" width="14.60" height="0.80" fill="#fafafa" />
<rect x="4.10" y="486.20" width="0.80" height="7.30" fill="#fafafa" />
<rect x="4.10" y="492.60" width="14.60" height="0.90" fill="#7a7a7a" />
<rect x="17.80" y="486.20" width="0.90" height="7.30" fill="#7a7a7a" />
<path d="M12.3 488.5 L10.6 489.8 L12.3 491.1 Z" fill="#111"/>
<rect x="930.70" y="486.20" width="5.40" height="7.30" fill="#e4e4e4" />
<rect x="930.70" y="486.20" width="5.40" height="0.80" fill="#fafafa" />
<rect x="930.70" y="486.20" width="0.80" height="7.30" fill="#fafafa" />
<rect x="930.70" y="492.60" width="5.40" height="0.90" fill="#7a7a7a" />
<rect x="935.20" y="486.20" width="0.90" height="7.30" fill="#7a7a7a" />
<rect x="936.10" y="486.20" width="15.80" height="7.30" fill="#e4e4e4" />
<rect x="936.10" y="486.20" width="15.80" height="0.80" fill="#fafafa" />
<rect x="936.10" y="486.20" width="0.80" height="7.30" fill="#fafafa" />
<rect x="936.10" y="492.60" width="15.80" height="0.90" fill="#7a7a7a" />
<rect x="951.00" y="486.20" width="0.90" height="7.30" fill="#7a7a7a" />
<path d="M943.4 488.5 L945.1 489.8 L943.4 491.1 Z" fill="#111"/>
<rect x="971.00" y="476.50" width="16.60" height="17.00" fill="#b4b4b4" />
<rect x="971.80" y="477.30" width="15.00" height="15.40" fill="#e5e5e5" />
<path d="M980.78 480.02 L976.78 480.62 L974.62 483.12 L972.92 485.53 L975.62 487.63 L977.63 486.63 L978.33 484.63 L976.63 484.02 L978.63 481.82 L980.93 481.32 Z" fill="#0d52a4"/>
<path d="M984.94 484.32 L982.14 482.72 L980.53 484.02 L981.33 485.33 L979.63 488.53 L977.43 489.84 L978.53 490.94 L982.14 489.54 L983.44 487.03 L985.24 485.63 Z" fill="#0d52a4"/>
<rect x="988.40" y="483.50" width="20.30" height="10.00" fill="#b8b8b8" />
<rect x="989.20" y="484.30" width="9.40" height="8.40" fill="#e5e5e5" />
<rect x="999.60" y="484.30" width="8.40" height="8.40" fill="#e5e5e5" />
<path d="M996.2 485.5 L996.2 491.2 L990.8 488.3 Z" fill="#0000f0" stroke="#00003a" stroke-width="0.4"/>
<path d="M1000.7 485.5 L1000.7 491.2 L1006.1 488.3 Z" fill="#0000f0" stroke="#00003a" stroke-width="0.4"/>
</svg></body></html>
